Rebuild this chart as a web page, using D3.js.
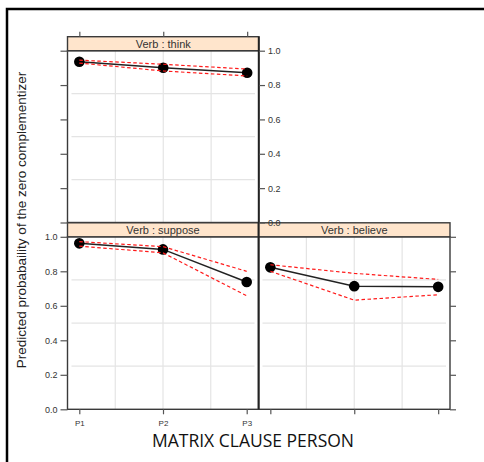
<!DOCTYPE html>
<html>
<head>
<meta charset="utf-8">
<script src="https://cdn.jsdelivr.net/npm/d3@7"></script>
<style>
  html, body { margin: 0; padding: 0; background: #fff; }
  svg { display: block; }
</style>
</head>
<body>
<svg id="chart" width="484" height="462"></svg>
<script>
// Matrix clause person levels and the verbs shown in each panel
const persons = ["P1", "P2", "P3"];
const verbs = ["think", "suppose", "believe"];

// Predicted probability of the zero complementizer, with confidence bands
const thinkFit   = [0.936, 0.901, 0.872];
const thinkLower = [0.928, 0.882, 0.853];
const thinkUpper = [0.945, 0.921, 0.893];

const supposeFit   = [0.962, 0.927, 0.738];
const supposeLower = [0.946, 0.907, 0.658];
const supposeUpper = [0.972, 0.943, 0.800];

const believeFit   = [0.823, 0.714, 0.710];
const believeLower = [0.800, 0.633, 0.664];
const believeUpper = [0.838, 0.788, 0.753];

const yTicks = [0, 0.2, 0.4, 0.6, 0.8, 1.0];

const svg = d3.select("#chart");

// outer frame
svg.append("rect")
  .attr("x", 7).attr("y", 9).attr("width", 700).attr("height", 700)
  .attr("fill", "none").attr("stroke", "#000").attr("stroke-width", 2.5);

const stripH = 14;
const panels = [
  { verb: verbs[0], fit: thinkFit, lo: thinkLower, hi: thinkUpper,
    x0: 67.5, x1: 259, y0: 50.7, y1: 222.5,
    left: "ticks", right: "labels", top: true, bottom: null },
  { verb: verbs[1], fit: supposeFit, lo: supposeLower, hi: supposeUpper,
    x0: 67.5, x1: 258.5, y0: 236.8, y1: 409.3,
    left: "labels", right: null, top: false, bottom: "labels" },
  { verb: verbs[2], fit: believeFit, lo: believeLower, hi: believeUpper,
    x0: 258.5, x1: 450, y0: 236.8, y1: 409.3,
    left: null, right: "ticks", top: false, bottom: "ticks" }
];

const border = "#3a3a3a";
const fmt = d3.format(".1f");

function styleAxis(g) {
  g.select(".domain").remove();
  g.selectAll(".tick line").attr("stroke", "#555").attr("stroke-width", 1.2);
  g.selectAll(".tick text").attr("fill", "#333")
    .attr("font-family", "Liberation Sans, Arial, sans-serif");
}

const panelLayer = svg.append("g");
const axisLayer = svg.append("g");

panels.forEach(p => {
  const x = d3.scalePoint().domain(persons).range([p.x0, p.x1]).padding(0.141);
  const y = d3.scaleLinear().domain([0, 1]).range([p.y1, p.y0]);
  const g = panelLayer.append("g");
  const w = p.x1 - p.x0, h = p.y1 - p.y0;

  // background reference grid at quarter divisions
  const fr = [0.25, 0.5, 0.75];
  g.selectAll(".gv").data(fr).join("line")
    .attr("x1", f => p.x0 + f * w).attr("x2", f => p.x0 + f * w)
    .attr("y1", p.y0).attr("y2", p.y1)
    .attr("stroke", "#e4e4e4").attr("stroke-width", 1.2);
  g.selectAll(".gh").data(fr).join("line")
    .attr("x1", p.x0 + 4).attr("x2", p.x1 - 4)
    .attr("y1", f => p.y1 - f * h).attr("y2", f => p.y1 - f * h)
    .attr("stroke", "#e4e4e4").attr("stroke-width", 1.2);

  // fitted line and points
  g.append("path")
    .datum(p.fit)
    .attr("d", d3.line().x((d, i) => x(persons[i])).y(d => y(d)))
    .attr("fill", "none").attr("stroke", "#222").attr("stroke-width", 1.5);
  g.selectAll("circle").data(p.fit).join("circle")
    .attr("cx", (d, i) => x(persons[i])).attr("cy", d => y(d))
    .attr("r", 5.3).attr("fill", "#000");

  // confidence bands
  [p.lo, p.hi].forEach(band => {
    g.append("path")
      .datum(band)
      .attr("d", d3.line().x((d, i) => x(persons[i])).y(d => y(d)))
      .attr("fill", "none").attr("stroke", "#ff1a1a").attr("stroke-width", 1.2)
      .attr("stroke-dasharray", "3.5,2.5");
  });

  // panel border
  g.append("rect")
    .attr("x", p.x0).attr("y", p.y0).attr("width", w).attr("height", h)
    .attr("fill", "none").attr("stroke", border).attr("stroke-width", 1.4);

  // strip
  g.append("rect")
    .attr("x", p.x0).attr("y", p.y0 - stripH).attr("width", w).attr("height", stripH)
    .attr("fill", "#ffe5cc").attr("stroke", border).attr("stroke-width", 1.4);
  g.append("text")
    .attr("x", (p.x0 + p.x1) / 2).attr("y", p.y0 - stripH / 2 + 4)
    .attr("text-anchor", "middle")
    .attr("font-family", "Liberation Sans, Arial, sans-serif")
    .attr("font-size", 11).attr("fill", "#333")
    .text("Verb : " + p.verb);

  // axes
  if (p.left) {
    const ax = d3.axisLeft(y).tickValues(yTicks).tickSize(7).tickPadding(3)
      .tickFormat(p.left === "labels" ? fmt : "");
    axisLayer.append("g").attr("transform", `translate(${p.x0},0)`)
      .call(ax).attr("font-size", 9).call(styleAxis);
  }
  if (p.right) {
    const ax = d3.axisRight(y).tickValues(yTicks).tickSize(6).tickPadding(3)
      .tickFormat(p.right === "labels" ? fmt : "");
    axisLayer.append("g").attr("transform", `translate(${p.x1},0)`)
      .call(ax).attr("font-size", 9).call(styleAxis);
  }
  if (p.top) {
    const ax = d3.axisTop(x).tickSize(5).tickFormat("");
    axisLayer.append("g").attr("transform", `translate(0,${p.y0 - stripH})`)
      .call(ax).call(styleAxis);
  }
  if (p.bottom) {
    const ax = d3.axisBottom(x).tickSize(5).tickPadding(6)
      .tickFormat(p.bottom === "labels" ? d => d : "");
    axisLayer.append("g").attr("transform", `translate(0,${p.y1})`)
      .call(ax).attr("font-size", 8).call(styleAxis);
  }
});

// darker divider between lower panels and down the upper panel's right edge
panelLayer.append("line")
  .attr("x1", 258.7).attr("x2", 258.7).attr("y1", 36.7).attr("y2", 409.3)
  .attr("stroke", "#222").attr("stroke-width", 1.8);

// axis titles
svg.append("text")
  .attr("transform", "translate(26,220) rotate(-90)")
  .attr("text-anchor", "middle")
  .attr("font-family", "Liberation Sans, Arial, sans-serif")
  .attr("font-size", 13.5).attr("fill", "#222")
  .text("Predicted probabaility of the zero complementizer");

svg.append("text")
  .attr("x", 253).attr("y", 447)
  .attr("text-anchor", "middle")
  .attr("font-family", "Open Sans, Lato, sans-serif")
  .attr("font-size", 17.5).attr("fill", "#111")
  .text("MATRIX CLAUSE PERSON");
</script>
</body>
</html>
